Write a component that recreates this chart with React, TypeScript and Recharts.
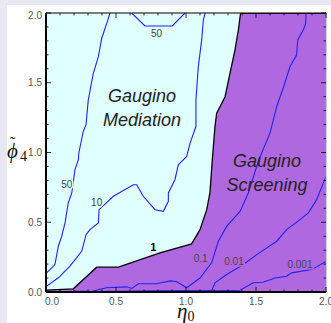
import React from 'react';
import { ComposedChart, Line, Area, XAxis, YAxis, ReferenceArea, ReferenceLine, ReferenceDot } from 'recharts';

// contours, as [eta0, phi4] pairs
const contour50Left = [
  [0.005, 0.137], [0.064, 0.197], [0.088, 0.328], [0.112, 0.399], [0.136, 0.495],
  [0.159, 0.638], [0.184, 0.71], [0.207, 0.877], [0.231, 0.948], [0.235, 1.0],
  [0.266, 1.15], [0.286, 1.199], [0.302, 1.377], [0.338, 1.568], [0.374, 1.687],
  [0.398, 1.819], [0.438, 1.938], [0.457, 2.0],
];
const contour50Top = [[0.612, 2.0], [0.707, 1.907], [0.902, 1.907], [0.993, 2.0]];
const contour10 = [
  [0.005, 0.042], [0.088, 0.102], [0.171, 0.185], [0.255, 0.292], [0.286, 0.411],
  [0.314, 0.447], [0.374, 0.495], [0.379, 0.59], [0.481, 0.686], [0.624, 0.769],
  [0.648, 0.769], [0.695, 0.686], [0.779, 0.59], [0.838, 0.578], [0.874, 0.65],
  [0.874, 0.71], [0.921, 0.805], [0.945, 0.912], [1.005, 0.972], [1.029, 1.067],
  [1.071, 1.186], [1.071, 1.377], [1.088, 1.616], [1.112, 1.807], [1.124, 1.95],
  [1.136, 2.0],
];
const contour1 = [
  [0.0, 0.013], [0.195, 0.023], [0.362, 0.178], [0.517, 0.178], [0.814, 0.28],
  [1.04, 0.345], [1.1, 0.447], [1.148, 0.59], [1.171, 0.71], [1.188, 0.948],
  [1.207, 1.186], [1.219, 1.282], [1.279, 1.4], [1.314, 1.568], [1.35, 1.735],
  [1.374, 1.878], [1.39, 2.0], [2.0, 2.0],
];
const contour01 = [
  [0.2, 0.005], [0.33, 0.005], [0.43, 0.03], [0.576, 0.037], [0.612, 0.025],
  [0.66, 0.059], [0.79, 0.059], [0.886, 0.08], [0.93, 0.075], [1.005, 0.03],
  [1.1, 0.1], [1.183, 0.209], [1.231, 0.364], [1.29, 0.47], [1.386, 0.578],
  [1.445, 0.71], [1.52, 0.948], [1.6, 1.139], [1.648, 1.33], [1.698, 1.473],
  [1.743, 1.616], [1.79, 1.699], [1.798, 1.807], [1.838, 1.878], [1.855, 1.926],
  [1.857, 2.0],
];
const contour001 = [
  [0.36, 0.004], [1.0, 0.01], [1.183, 0.01], [1.207, 0.066], [1.29, 0.125],
  [1.41, 0.197], [1.505, 0.268], [1.648, 0.364], [1.719, 0.447], [1.814, 0.519],
  [1.874, 0.567], [1.933, 0.662], [2.0, 0.829],
];
const contour0001 = [
  [0.4, 0.003], [1.195, 0.008], [1.386, 0.012], [1.48, 0.066], [1.55, 0.07],
  [1.636, 0.1], [1.719, 0.113], [1.755, 0.137], [1.898, 0.161], [1.933, 0.18],
  [2.0, 0.22],
];

// contour labels: text, eta0, phi4, background they sit on
const contourLabels: [string, number, number, string][] = [
  ['50', 0.148, 0.769, 'cyan'],
  ['50', 0.79, 1.855, 'cyan'],
  ['10', 0.362, 0.638, 'cyan'],
  ['0.1', 1.105, 0.238, 'purple'],
  ['0.01', 1.343, 0.22, 'purple'],
  ['0.001', 1.814, 0.197, 'purple'],
];

const axisTicks = [0, 0.1, 0.2, 0.3, 0.4, 0.5, 0.6, 0.7, 0.8, 0.9, 1.0, 1.1, 1.2, 1.3, 1.4, 1.5, 1.6, 1.7, 1.8, 1.9, 2.0];

const PURPLE = '#b068e0';
const CYAN = '#e0ffff';
const BLUE = '#1f22ff';
const MARGIN = { top: 13, right: 5, bottom: 0, left: 6 };
const W = 331;
const H = 323;

const toPts = (arr: number[][]) => arr.map(([x, y]) => ({ x, y }));

const isMajor = (v: number) => Math.abs(v * 2 - Math.round(v * 2)) < 1e-6;

const XTick = (props: any) => {
  const { x, y, payload } = props;
  const v = payload.value;
  const len = isMajor(v) ? 5 : 2.5;
  return (
    <g>
      <line x1={x} x2={x} y1={y} y2={y - len} stroke="#000" strokeWidth={0.8} />
      <line x1={x} x2={x} y1={MARGIN.top} y2={MARGIN.top + len} stroke="#000" strokeWidth={0.8} />
      {isMajor(v) && (
        <text x={x + (v === 0 ? 6 : 0)} y={y + 13} textAnchor="middle" fontSize={10}
          fontFamily="Liberation Sans, Arial, sans-serif" fill="#555">
          {v.toFixed(1)}
        </text>
      )}
    </g>
  );
};

const YTick = (props: any) => {
  const { x, y, payload } = props;
  const v = payload.value;
  const len = isMajor(v) ? 5 : 2.5;
  const right = W - MARGIN.right;
  return (
    <g>
      <line x1={x} x2={x + len} y1={y} y2={y} stroke="#000" strokeWidth={0.8} />
      <line x1={right} x2={right - len} y1={y} y2={y} stroke="#000" strokeWidth={0.8} />
      {isMajor(v) && (
        <text x={x - 4} y={y + 3.5 + (v === 2 ? 2 : 0)} textAnchor="end" fontSize={10}
          fontFamily="Liberation Sans, Arial, sans-serif" fill="#555">
          {v.toFixed(1)}
        </text>
      )}
    </g>
  );
};

const contourText = (text: string, bg: string, bold = false) => (p: any) => (
  <text x={p.cx} y={p.cy + 3.5} textAnchor="middle" fontSize={bold ? 11 : 10}
    fontWeight={bold ? 'bold' : 'normal'} fontFamily="Liberation Sans, Arial, sans-serif"
    fill={bold ? '#000' : '#444'} stroke={bold ? 'none' : bg === 'cyan' ? CYAN : PURPLE}
    strokeWidth={3} paintOrder="stroke">
    {text}
  </text>
);

const regionText = (a: string, b: string) => (p: any) => (
  <text textAnchor="middle" fontSize={18} fontStyle="italic"
    fontFamily="Liberation Sans, Arial, sans-serif" fill="#222">
    <tspan x={p.cx} y={p.cy + 5}>{a}</tspan>
    <tspan x={p.cx} y={p.cy + 29}>{b}</tspan>
  </text>
);

const EtaLabel = (p: any) => {
  const { x, width, y } = p.viewBox;
  const cx = x + width / 2;
  return (
    <text x={cx - 9} y={y + 26} fontFamily="Liberation Serif, Times New Roman, serif" fill="#111">
      <tspan fontSize={21} fontStyle="italic">η</tspan>
      <tspan fontSize={14} dy={3}>0</tspan>
    </text>
  );
};

const PhiLabel = (p: any) => {
  const { x, y, height } = p.viewBox;
  const cy = y + height / 2;
  return (
    <g fontFamily="Liberation Serif, Times New Roman, serif" fill="#111">
      <text x={x + 1} y={cy + 5} fontSize={21} fontStyle="italic">ϕ</text>
      <text x={x + 4} y={cy - 5} fontSize={16}>˜</text>
      <text x={x + 14} y={cy + 8} fontSize={14}>4</text>
    </g>
  );
};

export default function App() {
  return (
    <div style={{ position: 'absolute', left: 0, top: 0, width: W, height: H, background: '#e8e8f5' }}>
      <div style={{ position: 'absolute', left: 7, top: 5, right: 0, bottom: 0, background: '#fff' }} />
      <div style={{ position: 'absolute', left: 0, top: 0 }}>
        <ComposedChart width={W} height={H} margin={MARGIN}>
          <ReferenceArea x1={0} x2={2} y1={0} y2={2} fill={CYAN} fillOpacity={1} stroke="none" ifOverflow="visible" />
          <Area data={toPts(contour1)} dataKey="y" type="linear" baseValue={0} fill={PURPLE} fillOpacity={1}
            stroke="#000" strokeWidth={1.3} isAnimationActive={false} dot={false} activeDot={false} />
          <Line data={toPts(contour50Left)} dataKey="y" type="linear" stroke={BLUE} strokeWidth={1.1} dot={false} isAnimationActive={false} />
          <Line data={toPts(contour50Top)} dataKey="y" type="linear" stroke={BLUE} strokeWidth={1.1} dot={false} isAnimationActive={false} />
          <Line data={toPts(contour10)} dataKey="y" type="linear" stroke={BLUE} strokeWidth={1.1} dot={false} isAnimationActive={false} />
          <Line data={toPts(contour01)} dataKey="y" type="linear" stroke={BLUE} strokeWidth={1.1} dot={false} isAnimationActive={false} />
          <Line data={toPts(contour001)} dataKey="y" type="linear" stroke={BLUE} strokeWidth={1.1} dot={false} isAnimationActive={false} />
          <Line data={toPts(contour0001)} dataKey="y" type="linear" stroke={BLUE} strokeWidth={1.1} dot={false} isAnimationActive={false} />
          <ReferenceLine y={2} stroke="#000" strokeWidth={1.2} ifOverflow="visible" />
          <ReferenceLine x={2} stroke="#999" strokeWidth={1} ifOverflow="visible" />
          {contourLabels.map(([t, x, y, bg], i) => (
            <ReferenceDot key={i} x={x} y={y} r={0} ifOverflow="visible" shape={contourText(t, bg)} />
          ))}
          <ReferenceDot x={0.766} y={0.316} r={0} ifOverflow="visible" shape={contourText('1', 'cyan', true)} />
          <ReferenceDot x={0.686} y={1.395} r={0} ifOverflow="visible" shape={regionText('Gaugino', 'Mediation')} />
          <ReferenceDot x={1.578} y={0.93} r={0} ifOverflow="visible" shape={regionText('Gaugino', 'Screening')} />
          <XAxis type="number" dataKey="x" domain={[0, 2]} ticks={axisTicks} interval={0} height={31}
            tickSize={0} tickMargin={0} tick={<XTick />} axisLine={{ stroke: '#000', strokeWidth: 2 }}
            allowDataOverflow label={{ content: EtaLabel }} />
          <YAxis type="number" domain={[0, 2]} ticks={axisTicks} interval={0} width={40}
            tickSize={0} tickMargin={0} tick={<YTick />} axisLine={{ stroke: '#000', strokeWidth: 2 }}
            allowDataOverflow label={{ content: PhiLabel }} />
        </ComposedChart>
      </div>
    </div>
  );
}
